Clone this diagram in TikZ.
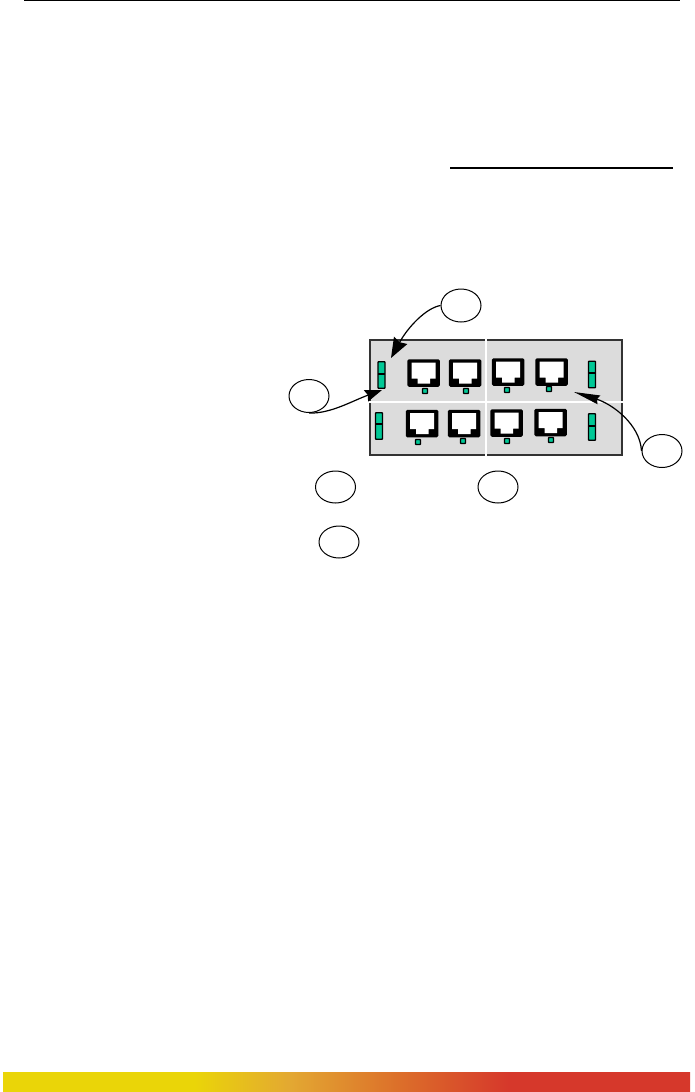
\documentclass[tikz,border=0pt]{standalone}
\usepackage{tikz}
\usetikzlibrary{shapes, arrows.meta, positioning}
\definecolor{panelGray}{HTML}{DCDCDC}
\definecolor{panelEdge}{HTML}{333333}
\definecolor{ledTeal}{HTML}{00C896}
\definecolor{barYellow}{HTML}{EAD508}
\definecolor{barGold}{HTML}{E3A832}
\definecolor{barOrange}{HTML}{DC6F2A}
\definecolor{barRed}{HTML}{D6382B}
\pgfdeclarehorizontalshading{barfade}{100bp}{
  color(0bp)=(barYellow); color(38.9bp)=(barYellow); color(45.9bp)=(barGold);
  color(53.8bp)=(barOrange); color(61.8bp)=(barRed); color(100bp)=(barRed)}
\tikzset{
  callout/.style={draw=black, line width=1pt, ellipse, inner sep=0pt, minimum width=40pt, minimum height=33pt},
  lead/.style={draw=black, line width=1.2pt},
  ledsmall/.style={draw=black, line width=1.3pt, fill=ledTeal, rounded corners=0.6pt, inner sep=0pt, minimum size=5pt},
  ledbar/.style={draw=black, line width=1.3pt, fill=ledTeal, rounded corners=0.6pt, inner sep=0pt, minimum width=7pt, minimum height=26.5pt},
  jack/.style={fill=black, rounded corners=1.5pt, inner sep=0pt, minimum width=32.5pt, minimum height=27.5pt},
  jackhole/.pic={
    \fill[white] (-12,-10.5) -- (12,-10.5) -- (12,5.5) -- (6.5,5.5) -- (6.5,10.5) -- (-6,10.5) -- (-6,5.5) -- (-12,5.5) -- cycle;
  }
}
\begin{document}
\begin{tikzpicture}[x=1pt, y=-1pt]
  \useasboundingbox (0,0) rectangle (694,1092);
  \node[draw=none, fill=black, inner sep=0pt, minimum width=656pt, minimum height=1.4pt] (topline) at (352,0.7) {};
  \node[fill=black, inner sep=0pt, minimum width=223pt, minimum height=2pt] (fieldline) at (561.5,168) {};
  \node[shading=barfade, shading angle=0, inner sep=0pt, minimum width=687pt, minimum height=20pt] (footbar) at (346.5,1082) {};

  \node[draw=panelEdge, fill=panelGray, line width=1.2pt, inner sep=0pt, minimum width=252pt, minimum height=115pt] (panel) at (496,397.5) {};
  \draw[white, line width=1.4pt] (panel.north -| 486,0) -- (panel.south -| 486,0);
  \draw[white, line width=1.4pt] (panel.west |- 0,402) -- (panel.east |- 0,402);

  % jacks, then the led under each one
  \foreach \jx/\jy/\lx/\ly [count=\n] in {423.5/373/425/391, 465/373/466/391, 508/372/507/390, 551.5/372/549/389,
                                         422/423.5/418/442, 464/423.5/463/441, 506.5/423/507/441, 550.5/422.5/551/440}{
    \node[jack] (jack\n) at (\jx,\jy) {};
    \pic at (jack\n.center) {jackhole};
    \node[ledsmall] (led\n) at (\lx,\ly) {};
  }
  \foreach \bx/\by/\dy [count=\n] in {381.5/375/374, 379/426/424, 592/374.5/373, 592/427/426}{
    \node[ledbar] (bar\n) at (\bx,\by) {};
    \draw[black, line width=1.1pt] (\bx-3.5,\dy) -- (\bx+3.5,\dy);
  }

  \node[callout] (capTop) at (461,305.5) {};
  \node[callout] (capLeft) at (309,396) {};
  \node[callout] (capRight) at (662,451) {};
  \node[callout, minimum height=32pt] (capLow1) at (335.5,487) {};
  \node[callout, minimum height=32pt] (capLow2) at (498,487) {};
  \node[callout, minimum height=32pt] (capLow3) at (339,542) {};

  \coordinate (tipTop) at (391,358);
  \coordinate (tipLeft) at (382,390);
  \coordinate (tipRight) at (574,392);
  \draw[lead, -{Stealth[length=20pt, width=15pt, inset=2pt]}] (capTop.west) .. controls (426,308) and (408,327) .. (tipTop);
  \draw[lead, -{Stealth[length=17pt, width=12pt, inset=2pt]}] (capLeft.south) .. controls (330,414) and (352,401) .. (tipLeft);
  \draw[lead, -{Stealth[length=26pt, width=9pt, inset=2pt]}] (capRight.west) .. controls (640,424) and (612,404) .. (tipRight);
\end{tikzpicture}
\end{document}
